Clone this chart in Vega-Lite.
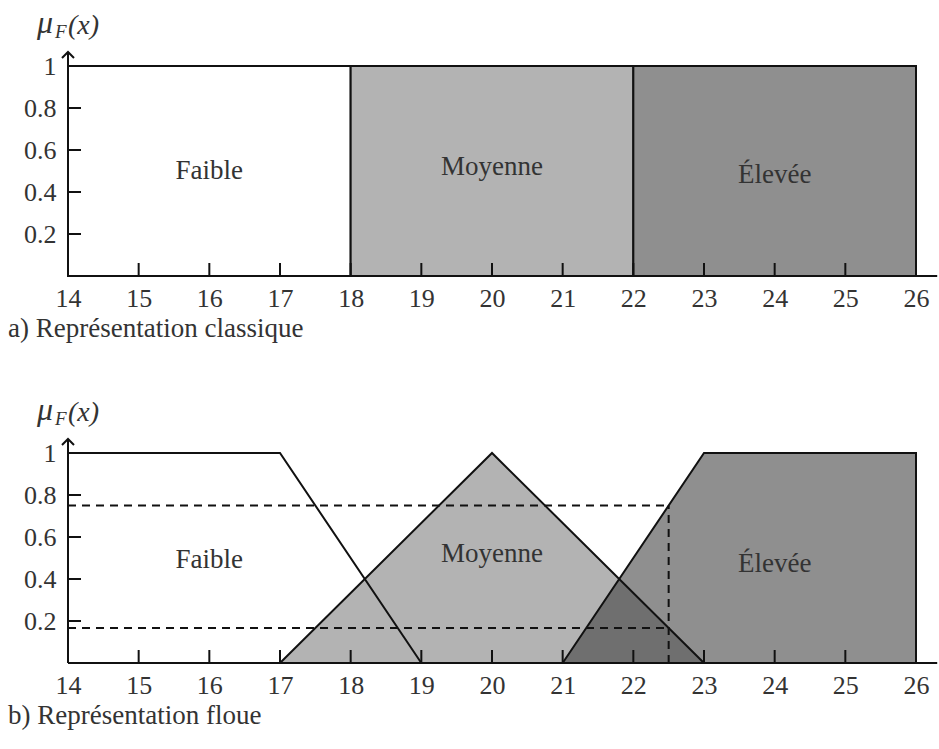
{
  "$schema": "https://vega.github.io/schema/vega-lite/v6.json",
  "padding": {"left": 8, "top": 7, "right": 2, "bottom": 5},
  "background": "white",
  "spacing": 52,
  "config": {
    "view": {"stroke": null},
    "axis": {"labelFont": "Liberation Serif", "labelFontSize": 26, "labelColor": "#333", "domain": false, "grid": false, "ticks": false, "title": null, "labelFlush": false, "labelOverlap": false},
    "text": {"font": "Liberation Serif", "fontSize": 27, "fill": "#333"},
    "title": {"font": "Liberation Serif", "fontSize": 27, "fontWeight": "normal", "color": "#333", "anchor": "start", "orient": "bottom", "frame": "group", "dx": -60, "offset": 5}
  },
  "datasets": {
    "one": [{}],
    "xticks": [{"v": 15}, {"v": 16}, {"v": 17}, {"v": 18}, {"v": 19}, {"v": 20}, {"v": 21}, {"v": 22}, {"v": 23}, {"v": 24}, {"v": 25}],
    "yticks": [{"v": 0.2}, {"v": 0.4}, {"v": 0.6}, {"v": 0.8}],
    "classic": [
      {"cls": "Faible", "start": 14, "end": 18},
      {"cls": "Moyenne", "start": 18, "end": 22},
      {"cls": "Élevée", "start": 22, "end": 26}
    ],
    "classicLabels": [
      {"cls": "Faible", "x": 16, "mu": 0.5},
      {"cls": "Moyenne", "x": 20, "mu": 0.52},
      {"cls": "Élevée", "x": 24, "mu": 0.48}
    ],
    "fuzzy": [
      {"cls": "Faible", "i": 0, "x": 14, "mu": 1},
      {"cls": "Faible", "i": 1, "x": 17, "mu": 1},
      {"cls": "Faible", "i": 2, "x": 19, "mu": 0},
      {"cls": "Moyenne", "i": 0, "x": 17, "mu": 0},
      {"cls": "Moyenne", "i": 1, "x": 20, "mu": 1},
      {"cls": "Moyenne", "i": 2, "x": 23, "mu": 0},
      {"cls": "Élevée", "i": 0, "x": 21, "mu": 0},
      {"cls": "Élevée", "i": 1, "x": 23, "mu": 1},
      {"cls": "Élevée", "i": 2, "x": 26, "mu": 1},
      {"cls": "Élevée", "i": 3, "x": 26, "mu": 0}
    ],
    "overlap": [
      {"i": 0, "x": 21, "mu": 0},
      {"i": 1, "x": 21.8, "mu": 0.4},
      {"i": 2, "x": 23, "mu": 0}
    ],
    "fuzzyLabels": [
      {"cls": "Faible", "x": 16, "mu": 0.49},
      {"cls": "Moyenne", "x": 20, "mu": 0.52},
      {"cls": "Élevée", "x": 24, "mu": 0.47}
    ],
    "cuts": [
      {"x": 14, "x2": 22.5, "mu": 0.75, "mu2": 0.75},
      {"x": 14, "x2": 22.5, "mu": 0.1667, "mu2": 0.1667},
      {"x": 22.5, "x2": 22.5, "mu": 0, "mu2": 0.75}
    ]
  },
  "vconcat": [
    {
      "width": 848,
      "height": 210,
      "title": {"text": "a) Représentation classique"},
      "layer": [
        {
          "data": {"name": "classic"},
          "mark": {"type": "rect", "stroke": "#111", "strokeWidth": 2},
          "encoding": {
            "x": {"field": "start", "type": "quantitative", "scale": {"domain": [14, 26], "nice": false, "zero": false},
                  "axis": {"values": [14, 15, 16, 17, 18, 19, 20, 21, 22, 23, 24, 25, 26], "format": "d", "labelPadding": 9}},
            "x2": {"field": "end"},
            "y": {"datum": 0, "type": "quantitative", "scale": {"domain": [0, 1], "nice": false},
                  "axis": {"values": [0.2, 0.4, 0.6, 0.8, 1], "format": "~g", "labelPadding": 12}},
            "y2": {"datum": 1},
            "fill": {"field": "cls", "type": "nominal", "scale": {"domain": ["Faible", "Moyenne", "Élevée"], "range": ["#ffffff", "#b3b3b3", "#8f8f8f"]}, "legend": null}
          }
        },
        {
          "data": {"name": "xticks"},
          "mark": {"type": "rule", "stroke": "#111", "strokeWidth": 2},
          "encoding": {"x": {"field": "v", "type": "quantitative"}, "y": {"datum": 0}, "y2": {"datum": 0.062}}
        },
        {
          "data": {"name": "yticks"},
          "mark": {"type": "rule", "stroke": "#111", "strokeWidth": 2},
          "encoding": {"y": {"field": "v", "type": "quantitative"}, "x": {"datum": 14}, "x2": {"datum": 14.184}}
        },
        {
          "data": {"name": "one"},
          "mark": {"type": "rule", "stroke": "#111", "strokeWidth": 2},
          "encoding": {"x": {"datum": 14}, "x2": {"datum": 26.3}, "y": {"datum": 0}}
        },
        {
          "data": {"name": "one"},
          "mark": {"type": "rule", "stroke": "#111", "strokeWidth": 2},
          "encoding": {"x": {"datum": 14}, "y": {"datum": 0}, "y2": {"datum": 1.067}}
        },
        {
          "data": {"name": "one"},
          "mark": {"type": "point", "shape": "M-1,1L0,0L1,1", "size": 144, "filled": false, "stroke": "#111", "strokeWidth": 2, "opacity": 1},
          "encoding": {"x": {"datum": 14}, "y": {"datum": 1.067}}
        },
        {
          "data": {"name": "classicLabels"},
          "mark": {"type": "text", "baseline": "middle", "align": "center"},
          "encoding": {"x": {"field": "x", "type": "quantitative"}, "y": {"field": "mu", "type": "quantitative"}, "text": {"field": "cls"}}
        },
        {
          "data": {"name": "one"},
          "mark": {"type": "text", "text": "μ", "fontStyle": "italic", "fontSize": 32, "align": "left", "baseline": "alphabetic", "dx": -31, "dy": -33},
          "encoding": {"x": {"datum": 14}, "y": {"datum": 1}}
        },
        {
          "data": {"name": "one"},
          "mark": {"type": "text", "text": "F", "fontStyle": "italic", "fontSize": 19, "align": "left", "baseline": "alphabetic", "dx": -13, "dy": -28},
          "encoding": {"x": {"datum": 14}, "y": {"datum": 1}}
        },
        {
          "data": {"name": "one"},
          "mark": {"type": "text", "text": "(x)", "fontStyle": "italic", "fontSize": 28, "align": "left", "baseline": "alphabetic", "dx": 0, "dy": -32},
          "encoding": {"x": {"datum": 14}, "y": {"datum": 1}}
        }
      ]
    },
    {
      "width": 848,
      "height": 210,
      "title": {"text": "b) Représentation floue"},
      "layer": [
        {
          "data": {"name": "fuzzy"},
          "transform": [{"filter": "datum.cls === 'Élevée' && datum.i < 3"}],
          "mark": {"type": "area", "color": "#8f8f8f", "opacity": 1},
          "encoding": {
            "x": {"field": "x", "type": "quantitative", "scale": {"domain": [14, 26], "nice": false, "zero": false},
                  "axis": {"values": [14, 15, 16, 17, 18, 19, 20, 21, 22, 23, 24, 25, 26], "format": "d", "labelPadding": 9}},
            "y": {"field": "mu", "type": "quantitative", "scale": {"domain": [0, 1], "nice": false},
                  "axis": {"values": [0.2, 0.4, 0.6, 0.8, 1], "format": "~g", "labelPadding": 12}},
            "y2": {"datum": 0}
          }
        },
        {
          "data": {"name": "fuzzy"},
          "transform": [{"filter": "datum.cls === 'Moyenne'"}],
          "mark": {"type": "area", "color": "#b3b3b3", "opacity": 1},
          "encoding": {
            "x": {"field": "x", "type": "quantitative"},
            "y": {"field": "mu", "type": "quantitative"},
            "y2": {"datum": 0}
          }
        },
        {
          "data": {"name": "overlap"},
          "mark": {"type": "area", "color": "#6f6f6f", "opacity": 1},
          "encoding": {
            "x": {"field": "x", "type": "quantitative"},
            "y": {"field": "mu", "type": "quantitative"},
            "y2": {"datum": 0}
          }
        },
        {
          "data": {"name": "fuzzy"},
          "mark": {"type": "line", "color": "#111", "strokeWidth": 2},
          "encoding": {
            "x": {"field": "x", "type": "quantitative"},
            "y": {"field": "mu", "type": "quantitative"},
            "detail": {"field": "cls"},
            "order": {"field": "i"}
          }
        },
        {
          "data": {"name": "cuts"},
          "mark": {"type": "rule", "color": "#111", "strokeWidth": 2, "strokeDash": [8, 6]},
          "encoding": {
            "x": {"field": "x", "type": "quantitative"},
            "x2": {"field": "x2"},
            "y": {"field": "mu", "type": "quantitative"},
            "y2": {"field": "mu2"}
          }
        },
        {
          "data": {"name": "xticks"},
          "mark": {"type": "rule", "stroke": "#111", "strokeWidth": 2},
          "encoding": {"x": {"field": "v", "type": "quantitative"}, "y": {"datum": 0}, "y2": {"datum": 0.062}}
        },
        {
          "data": {"name": "yticks"},
          "mark": {"type": "rule", "stroke": "#111", "strokeWidth": 2},
          "encoding": {"y": {"field": "v", "type": "quantitative"}, "x": {"datum": 14}, "x2": {"datum": 14.184}}
        },
        {
          "data": {"name": "one"},
          "mark": {"type": "rule", "stroke": "#111", "strokeWidth": 2},
          "encoding": {"x": {"datum": 14}, "x2": {"datum": 26.3}, "y": {"datum": 0}}
        },
        {
          "data": {"name": "one"},
          "mark": {"type": "rule", "stroke": "#111", "strokeWidth": 2},
          "encoding": {"x": {"datum": 14}, "y": {"datum": 0}, "y2": {"datum": 1.067}}
        },
        {
          "data": {"name": "one"},
          "mark": {"type": "point", "shape": "M-1,1L0,0L1,1", "size": 144, "filled": false, "stroke": "#111", "strokeWidth": 2, "opacity": 1},
          "encoding": {"x": {"datum": 14}, "y": {"datum": 1.067}}
        },
        {
          "data": {"name": "fuzzyLabels"},
          "mark": {"type": "text", "baseline": "middle", "align": "center"},
          "encoding": {"x": {"field": "x", "type": "quantitative"}, "y": {"field": "mu", "type": "quantitative"}, "text": {"field": "cls"}}
        },
        {
          "data": {"name": "one"},
          "mark": {"type": "text", "text": "μ", "fontStyle": "italic", "fontSize": 32, "align": "left", "baseline": "alphabetic", "dx": -31, "dy": -33},
          "encoding": {"x": {"datum": 14}, "y": {"datum": 1}}
        },
        {
          "data": {"name": "one"},
          "mark": {"type": "text", "text": "F", "fontStyle": "italic", "fontSize": 19, "align": "left", "baseline": "alphabetic", "dx": -13, "dy": -28},
          "encoding": {"x": {"datum": 14}, "y": {"datum": 1}}
        },
        {
          "data": {"name": "one"},
          "mark": {"type": "text", "text": "(x)", "fontStyle": "italic", "fontSize": 28, "align": "left", "baseline": "alphabetic", "dx": 0, "dy": -32},
          "encoding": {"x": {"datum": 14}, "y": {"datum": 1}}
        }
      ]
    }
  ]
}
